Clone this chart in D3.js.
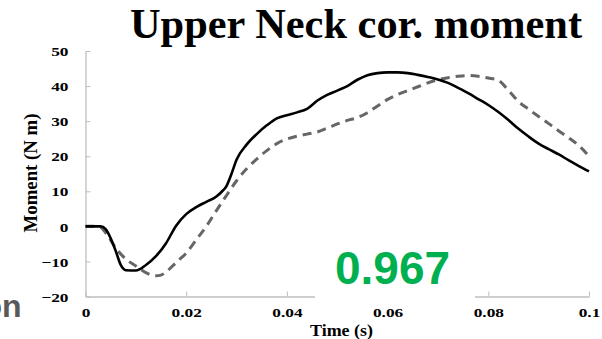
<!DOCTYPE html>
<html>
<head>
<meta charset="utf-8">
<script src="https://cdn.jsdelivr.net/npm/d3@7"></script>
<style>
  html, body { margin: 0; padding: 0; background: #fff; overflow: hidden; }
  svg { display: block; }
</style>
</head>
<body>
<svg id="chart" width="602" height="339"></svg>
<script>
// Upper neck coronal moment: two time histories (solid and dashed)
const solidTime = [0, 0.002, 0.003, 0.004, 0.005, 0.006, 0.007, 0.008, 0.010, 0.012, 0.014, 0.016, 0.018,
  0.020, 0.022, 0.024, 0.026, 0.027, 0.028, 0.029, 0.030, 0.032, 0.034, 0.036, 0.038, 0.040, 0.042,
  0.044, 0.046, 0.048, 0.050, 0.052, 0.054, 0.056, 0.058, 0.060, 0.062, 0.064, 0.066, 0.068, 0.070,
  0.072, 0.074, 0.076, 0.078, 0.080, 0.082, 0.084, 0.086, 0.088, 0.090, 0.092, 0.094, 0.096, 0.098, 0.100];
const solidValues = [0, 0, 0, -0.8, -3.4, -7, -11, -12.5, -12.6, -11, -8.5, -4.8, 0.2,
  3.5, 5.5, 7.0, 8.5, 9.8, 11.5, 15, 19, 23.3, 26.3, 28.8, 30.8, 31.7, 32.5,
  33.5, 35.8, 37.5, 38.7, 40.0, 41.8, 43.1, 43.7, 43.9, 43.9, 43.7, 43.2, 42.6, 41.9,
  40.9, 39.5, 38.0, 36.3, 34.6, 32.6, 30.3, 27.8, 25.6, 23.6, 22.0, 20.5, 18.8, 17.2, 15.7];

const dashedTime = [0, 0.002, 0.003, 0.004, 0.006, 0.008, 0.010, 0.012, 0.014, 0.015, 0.016, 0.018,
  0.020, 0.022, 0.024, 0.026, 0.028, 0.030, 0.032, 0.034, 0.036, 0.038, 0.040, 0.042, 0.044, 0.046,
  0.048, 0.050, 0.052, 0.054, 0.056, 0.058, 0.060, 0.062, 0.064, 0.066, 0.068, 0.070, 0.072, 0.074,
  0.076, 0.078, 0.080, 0.082, 0.084, 0.086, 0.088, 0.090, 0.092, 0.094, 0.096, 0.098, 0.100];
const dashedValues = [0, 0, -0.3, -1.8, -6.2, -9.3, -11.3, -13.2, -14.1, -13.9, -13, -10.3,
  -7.6, -3.8, 0, 4.5, 8.8, 13, 16.4, 19.2, 21.6, 23.6, 24.9, 25.7, 26.3, 26.9,
  28.0, 29.2, 30.2, 31, 32.4, 34.3, 36.2, 37.6, 38.7, 39.8, 40.9, 41.8, 42.4, 42.8,
  43.0, 42.8, 42.3, 41.6, 38.8, 35.6, 33.4, 31.3, 29.3, 27.2, 25.2, 23, 20];

const xTicks = [0, 0.02, 0.04, 0.06, 0.08, 0.1];
const xTickLabels = ["0", "0.02", "0.04", "0.06", "0.08", "0.1"];
const yTicks = [-20, -10, 0, 10, 20, 30, 40, 50];

const titleText = "Upper Neck cor. moment";
const xTitle = "Time (s)";
const yTitle = "Moment (N m)";
const scoreText = "0.967";

const svg = d3.select("#chart");
const plotLeft = 85.5, plotRight = 589, plotTop = 51, plotBottom = 296.5;

const x = d3.scaleLinear().domain([0, 0.1]).range([plotLeft, plotRight]);
const y = d3.scaleLinear().domain([-20, 50]).range([plotBottom, plotTop]);

const serif = "'Liberation Serif', 'Times New Roman', serif";
const sans = "'Liberation Sans', Arial, sans-serif";
const axisColor = "#bfbfbf";

// Axes with inward ticks
const yAxis = svg.append("g")
  .attr("transform", `translate(${plotLeft},0)`)
  .call(d3.axisLeft(y).tickValues(yTicks).tickSizeInner(-5).tickSizeOuter(0).tickPadding(17).tickFormat(d3.format("d")));
const xAxis = svg.append("g")
  .attr("transform", `translate(0,${plotBottom})`)
  .call(d3.axisBottom(x).tickValues(xTicks).tickSizeInner(-5).tickSizeOuter(0).tickPadding(11)
    .tickFormat((d, i) => xTickLabels[i]));

[yAxis, xAxis].forEach(g => {
  g.select(".domain").attr("stroke", axisColor).attr("stroke-width", 1.3);
  g.selectAll(".tick line").attr("stroke", axisColor).attr("stroke-width", 1);
  g.selectAll(".tick text")
    .attr("fill", "#000")
    .style("font-family", serif)
    .style("font-weight", "bold")
    .style("font-size", "13px")
    // tick numerals are drawn wide
    .each(function () {
      const w = this.getComputedTextLength();
      d3.select(this).attr("textLength", w * 1.33).attr("lengthAdjust", "spacingAndGlyphs");
    });
});
yAxis.selectAll(".tick text").attr("dy", "0.36em");

// Curves
const line = d3.line().curve(d3.curveMonotoneX);

svg.append("path")
  .attr("d", line(dashedTime.map((t, i) => [x(t), y(dashedValues[i])])))
  .attr("fill", "none")
  .attr("stroke", "#666666")
  .attr("stroke-width", 3)
  .attr("stroke-dasharray", "9,6");

svg.append("path")
  .attr("d", line(solidTime.map((t, i) => [x(t), y(solidValues[i])])))
  .attr("fill", "none")
  .attr("stroke", "#000")
  .attr("stroke-width", 2.6)
  .attr("stroke-linejoin", "round");

// Title
svg.append("text")
  .attr("x", 130).attr("y", 37.5)
  .style("font-family", serif).style("font-weight", "bold").style("font-size", "42px")
  .attr("fill", "#000")
  .attr("textLength", 452).attr("lengthAdjust", "spacingAndGlyphs")
  .text(titleText);

// Axis titles
svg.append("text")
  .attr("x", 341.5).attr("y", 336)
  .attr("text-anchor", "middle")
  .style("font-family", serif).style("font-weight", "bold").style("font-size", "17px")
  .attr("fill", "#000")
  .attr("textLength", 63).attr("lengthAdjust", "spacingAndGlyphs")
  .text(xTitle);

svg.append("text")
  .attr("transform", "translate(37,173) rotate(-90)")
  .attr("text-anchor", "middle")
  .style("font-family", serif).style("font-weight", "bold").style("font-size", "18px")
  .attr("fill", "#000")
  .attr("textLength", 119).attr("lengthAdjust", "spacingAndGlyphs")
  .text(yTitle);

// Score label on a white box that sits over the axis
svg.append("rect")
  .attr("x", 315).attr("y", 236).attr("width", 160).attr("height", 63)
  .attr("fill", "#fff");
svg.append("text")
  .attr("x", 335).attr("y", 283.5)
  .style("font-family", sans).style("font-weight", "bold").style("font-size", "46px")
  .attr("fill", "#00b050")
  .text(scoreText);

// Neighbouring caption fragment at the left edge
svg.append("text")
  .attr("x", 21.5).attr("y", 316.7)
  .attr("text-anchor", "end")
  .style("font-family", sans).style("font-weight", "bold").style("font-size", "32px")
  .attr("fill", "#595959")
  .text("on");
</script>
</body>
</html>
